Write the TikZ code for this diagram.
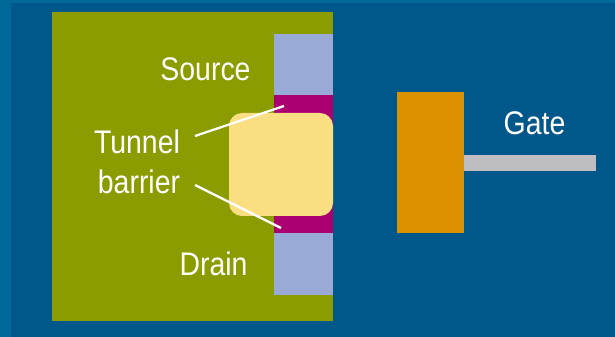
\documentclass[tikz,border=0pt]{standalone}
\usepackage{fontspec}
\setmainfont[FakeStretch=0.87]{Liberation Sans}
\definecolor{bandblue}{HTML}{00699A}
\definecolor{deepblue}{HTML}{00578A}
\definecolor{olive}{HTML}{8A9C00}
\definecolor{slateblue}{HTML}{99AAD6}
\definecolor{barrier}{HTML}{AA0070}
\definecolor{paleyellow}{HTML}{FADF82}
\definecolor{gateorange}{HTML}{DC9200}
\definecolor{leadgray}{HTML}{BEBEC2}
\tikzset{
  lbl/.style={text=white, inner sep=0pt, font=\fontsize{18.6pt}{22pt}\selectfont, align=left},
  pointer/.style={white, line width=0.045cm}
}
\begin{document}
\begin{tikzpicture}[x=0.02cm, y=-0.02cm]
  \useasboundingbox (0,0) rectangle (615,337);

  \fill[bandblue] (0,0) rectangle (615,337);
  \fill[deepblue] (11,3) rectangle (615,337);

  \fill[olive] (52,12) rectangle (333,321);
  \fill[slateblue] (274,34) rectangle (333,95);
  \fill[barrier] (274,95) rectangle (333,233);
  \fill[slateblue] (274,233) rectangle (333,295);
  \fill[paleyellow, rounded corners=0.26cm] (229,113) rectangle (333,216);

  \fill[gateorange] (397,92) rectangle (464,233);
  \fill[leadgray] (464,155) rectangle (596,171);

  \draw[pointer] (195,136) -- (284,106);
  \draw[pointer] (195,185) -- (281,228);

  \node[lbl] (source) at (205.5,69) {Source};
  \node[lbl] (tunnel) at (137,142) {Tunnel};
  \node[lbl] (barrier) at (139,182) {barrier};
  \node[lbl] (drain) at (213.5,264) {Drain};
  \node[lbl] (gate) at (534.5,123) {Gate};
\end{tikzpicture}
\end{document}
